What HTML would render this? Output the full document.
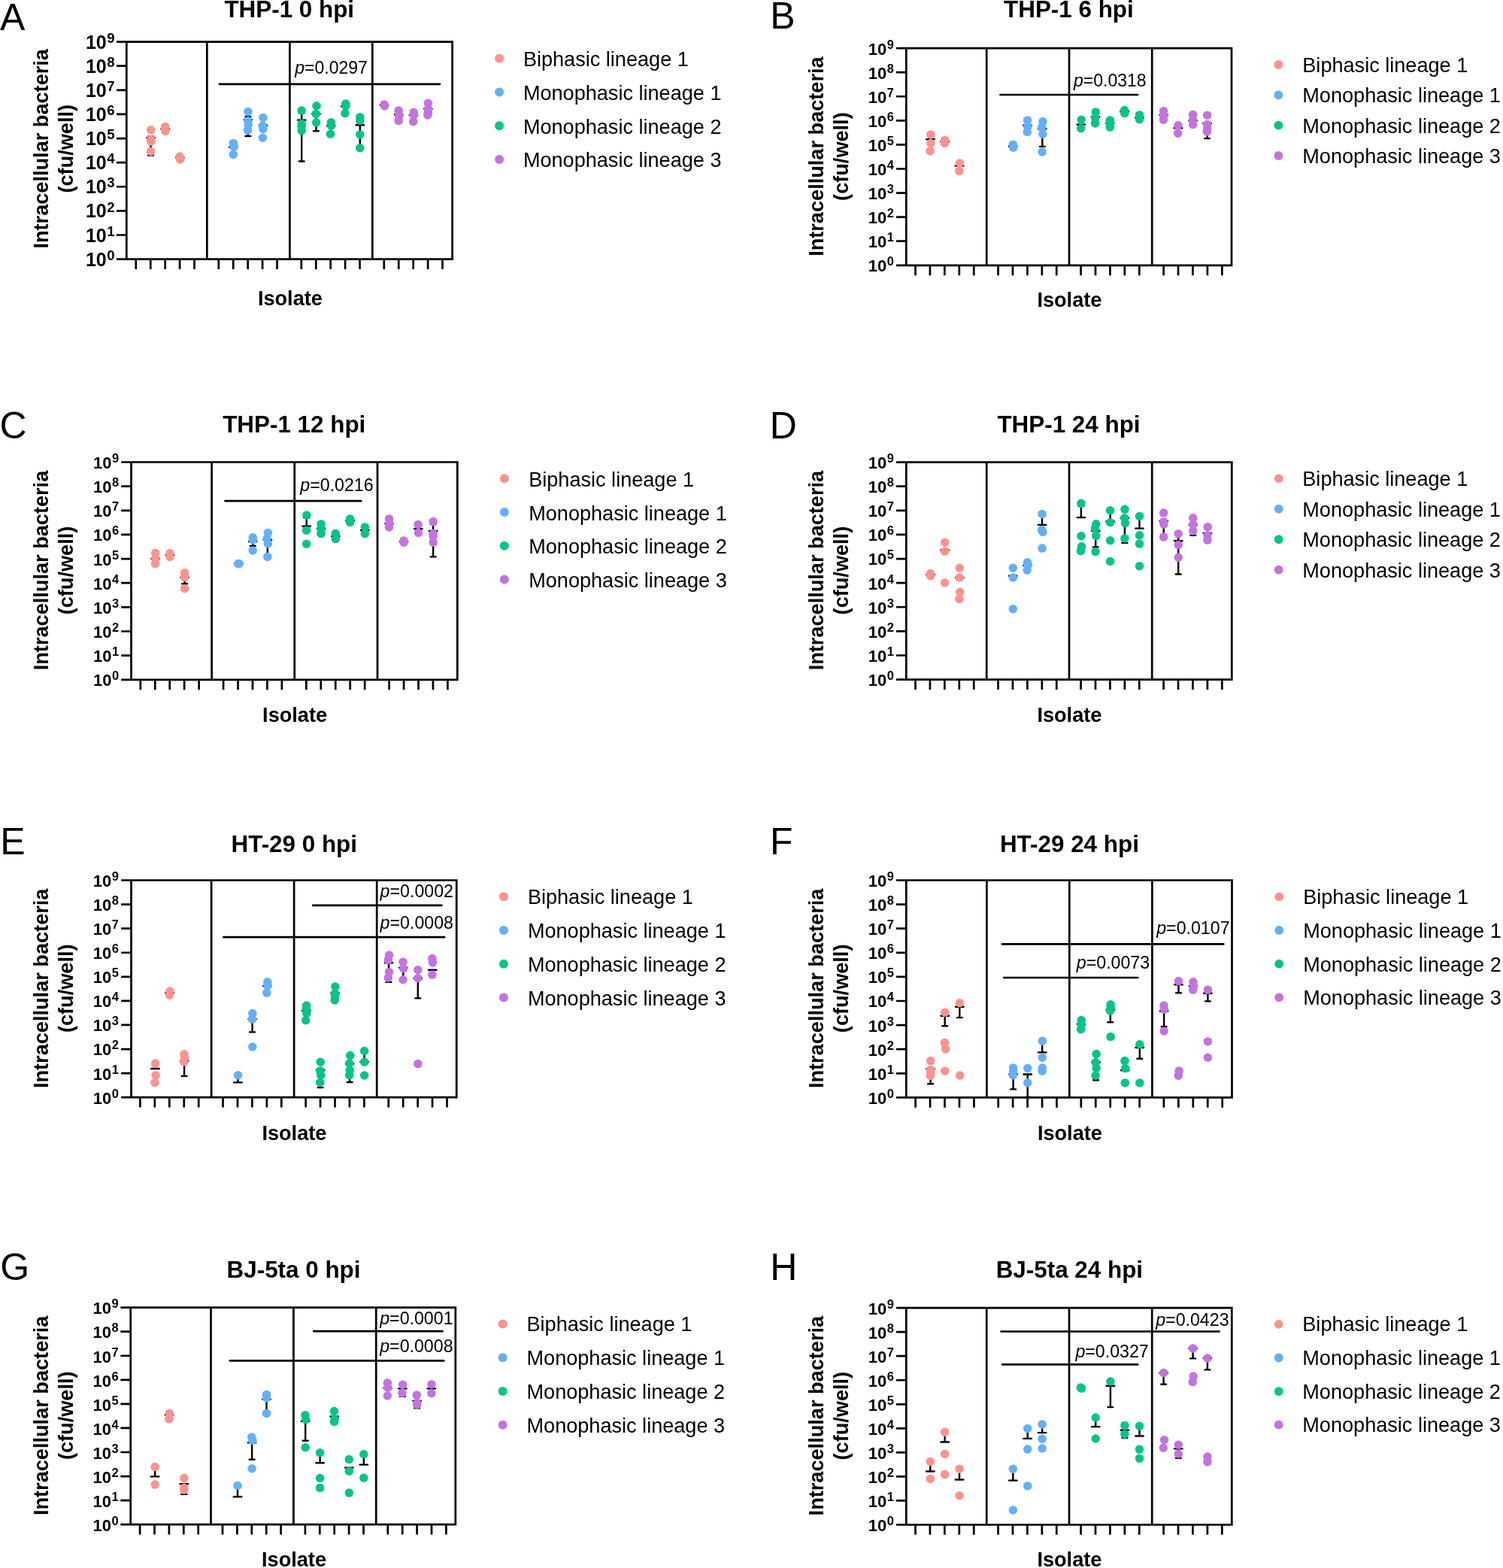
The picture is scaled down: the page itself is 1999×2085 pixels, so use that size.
<!DOCTYPE html>
<html><head><meta charset="utf-8"><style>
html,body{margin:0;padding:0;background:#fff;}
svg{display:block;}
text{font-family:"Liberation Sans",Arial,sans-serif;fill:#000;}
</style></head><body>
<svg xmlns="http://www.w3.org/2000/svg" width="1999" height="2085" viewBox="0 0 1999 2085">
<rect width="1999" height="2085" fill="#fff"/>
<text x="0" y="39.9" font-size="50" fill="#232323">A</text>
<text x="384.75" y="23.2" font-size="31.4" font-weight="bold" text-anchor="middle">THP-1 0 hpi</text>
<text transform="translate(64.4,197.8) rotate(-90)" font-size="27.15" font-weight="bold" text-anchor="middle">Intracellular bacteria</text>
<text transform="translate(96.8,197.8) rotate(-90)" font-size="27.15" font-weight="bold" text-anchor="middle">(cfu/well)</text>
<text x="385.9" y="405.8" font-size="27.15" font-weight="bold" text-anchor="middle">Isolate</text>
<path d="M168.3 55.6L601.6 55.6 M601.6 55.6L601.6 344.6 M156.3 344.6L601.6 344.6 M168.3 55.6L168.3 344.6 M156.3 344.6L168.3 344.6 M156.3 312.49L168.3 312.49 M156.3 280.38L168.3 280.38 M156.3 248.27L168.3 248.27 M156.3 216.16L168.3 216.16 M156.3 184.04L168.3 184.04 M156.3 151.93L168.3 151.93 M156.3 119.82L168.3 119.82 M156.3 87.71L168.3 87.71 M156.3 55.6L168.3 55.6 M275.3 55.6L275.3 344.6 M385.4 55.6L385.4 344.6 M495.3 55.6L495.3 344.6 M180.8 344.6L180.8 356.6 M200.23 344.6L200.23 356.6 M219.66 344.6L219.66 356.6 M239.09 344.6L239.09 356.6 M258.52 344.6L258.52 356.6 M290.8 344.6L290.8 356.6 M310.23 344.6L310.23 356.6 M329.66 344.6L329.66 356.6 M349.09 344.6L349.09 356.6 M368.52 344.6L368.52 356.6 M400.8 344.6L400.8 356.6 M420.23 344.6L420.23 356.6 M439.66 344.6L439.66 356.6 M459.09 344.6L459.09 356.6 M478.52 344.6L478.52 356.6 M510.8 344.6L510.8 356.6 M530.23 344.6L530.23 356.6 M549.66 344.6L549.66 356.6 M569.09 344.6L569.09 356.6 M588.52 344.6L588.52 356.6" stroke="#000" stroke-width="2.7" fill="none" stroke-linecap="square"/>
<text x="141.7" y="353.7" font-size="25" font-weight="bold" text-anchor="end">10</text><text x="142.2" y="345.8" font-size="18.6" font-weight="bold">0</text>
<text x="141.7" y="321.59" font-size="25" font-weight="bold" text-anchor="end">10</text><text x="142.2" y="313.69" font-size="18.6" font-weight="bold">1</text>
<text x="141.7" y="289.48" font-size="25" font-weight="bold" text-anchor="end">10</text><text x="142.2" y="281.58" font-size="18.6" font-weight="bold">2</text>
<text x="141.7" y="257.37" font-size="25" font-weight="bold" text-anchor="end">10</text><text x="142.2" y="249.47" font-size="18.6" font-weight="bold">3</text>
<text x="141.7" y="225.26" font-size="25" font-weight="bold" text-anchor="end">10</text><text x="142.2" y="217.36" font-size="18.6" font-weight="bold">4</text>
<text x="141.7" y="193.14" font-size="25" font-weight="bold" text-anchor="end">10</text><text x="142.2" y="185.24" font-size="18.6" font-weight="bold">5</text>
<text x="141.7" y="161.03" font-size="25" font-weight="bold" text-anchor="end">10</text><text x="142.2" y="153.13" font-size="18.6" font-weight="bold">6</text>
<text x="141.7" y="128.92" font-size="25" font-weight="bold" text-anchor="end">10</text><text x="142.2" y="121.02" font-size="18.6" font-weight="bold">7</text>
<text x="141.7" y="96.81" font-size="25" font-weight="bold" text-anchor="end">10</text><text x="142.2" y="88.91" font-size="18.6" font-weight="bold">8</text>
<text x="141.7" y="64.7" font-size="25" font-weight="bold" text-anchor="end">10</text><text x="142.2" y="56.8" font-size="18.6" font-weight="bold">9</text>
<path d="M291.9 111.9L584.9 111.9" stroke="#000" stroke-width="2.7" stroke-linecap="round"/>
<text x="392.3" y="97.5" font-size="23"><tspan font-style="italic">p</tspan>=0.0297</text>
<path d="M195.25 183.3L205.75 183.3 M200.5 183.3L200.5 206.6M197.1 206.6L203.9 206.6 M200.5 183.3L200.5 181.5M197.1 181.5L203.9 181.5 M214.35 171.4L224.85 171.4 M234.05 209.5L244.55 209.5 M305.05 195.6L315.55 195.6 M324.65 159.3L335.15 159.3 M329.9 159.3L329.9 181M326.5 181L333.3 181 M329.9 159.3L329.9 155.2M326.5 155.2L333.3 155.2 M344.65 166.8L355.15 166.8 M395.95 159.6L406.45 159.6 M401.2 159.6L401.2 214.5M397.8 214.5L404.6 214.5 M401.2 159.6L401.2 150M397.8 150L404.6 150 M415.25 151.4L425.75 151.4 M420.5 151.4L420.5 174.3M417.1 174.3L423.9 174.3 M434.95 167.3L445.45 167.3 M454.05 141.4L464.55 141.4 M473.55 166.2L484.05 166.2 M478.8 166.2L478.8 194M475.4 194L482.2 194 M505.65 139.6L516.15 139.6 M524.95 152.3L535.45 152.3 M544.75 152.9L555.25 152.9 M564.15 144.8L574.65 144.8" stroke="#000" stroke-width="2.4" fill="none" stroke-linecap="round"/>
<g fill="#FF928F"><circle cx="200.6" cy="172.8" r="5.75"/><circle cx="200.6" cy="185.2" r="5.75"/><circle cx="200.9" cy="188.1" r="5.75"/><circle cx="200.6" cy="201.5" r="5.75"/><circle cx="219.6" cy="168.5" r="5.75"/><circle cx="219.6" cy="171" r="5.75"/><circle cx="219.8" cy="174.5" r="5.75"/><circle cx="239" cy="208" r="5.75"/><circle cx="239.3" cy="211" r="5.75"/><circle cx="239.6" cy="212" r="5.75"/></g>
<g fill="#64AFFB"><circle cx="310.3" cy="190.4" r="5.75"/><circle cx="311.2" cy="195.1" r="5.75"/><circle cx="310.3" cy="205.5" r="5.75"/><circle cx="329.9" cy="148.6" r="5.75"/><circle cx="329.9" cy="160.4" r="5.75"/><circle cx="330.2" cy="165.6" r="5.75"/><circle cx="329.5" cy="173.1" r="5.75"/><circle cx="349.9" cy="156.4" r="5.75"/><circle cx="349.4" cy="167.3" r="5.75"/><circle cx="349.9" cy="171.4" r="5.75"/><circle cx="349.4" cy="183.3" r="5.75"/></g>
<g fill="#03C48B"><circle cx="401.2" cy="147.1" r="5.75"/><circle cx="401.2" cy="164.5" r="5.75"/><circle cx="401.2" cy="167.9" r="5.75"/><circle cx="401.2" cy="173.7" r="5.75"/><circle cx="421" cy="140.8" r="5.75"/><circle cx="420.2" cy="151.4" r="5.75"/><circle cx="420.6" cy="163" r="5.75"/><circle cx="440.4" cy="162.7" r="5.75"/><circle cx="440.4" cy="167.3" r="5.75"/><circle cx="439.5" cy="178.3" r="5.75"/><circle cx="459.8" cy="137.9" r="5.75"/><circle cx="459.8" cy="140.8" r="5.75"/><circle cx="458.9" cy="150.6" r="5.75"/><circle cx="478.8" cy="155.8" r="5.75"/><circle cx="478.8" cy="160.4" r="5.75"/><circle cx="478.8" cy="178.9" r="5.75"/><circle cx="478.8" cy="196.8" r="5.75"/></g>
<g fill="#C373E0"><circle cx="511" cy="139" r="5.75"/><circle cx="511.5" cy="141" r="5.75"/><circle cx="530.2" cy="147.1" r="5.75"/><circle cx="530.8" cy="153.5" r="5.75"/><circle cx="530.2" cy="160.4" r="5.75"/><circle cx="550.2" cy="149.4" r="5.75"/><circle cx="550.4" cy="152.9" r="5.75"/><circle cx="549.6" cy="161.6" r="5.75"/><circle cx="569.4" cy="137.3" r="5.75"/><circle cx="569.4" cy="144.8" r="5.75"/><circle cx="569.4" cy="149.4" r="5.75"/><circle cx="568.8" cy="152.9" r="5.75"/></g>
<circle cx="664.1" cy="77.7" r="6" fill="#FF928F"/>
<text x="695.9" y="88" font-size="27.1">Biphasic lineage 1</text>
<circle cx="664.1" cy="122.5" r="6" fill="#64AFFB"/>
<text x="695.9" y="132.8" font-size="27.1">Monophasic lineage 1</text>
<circle cx="664.1" cy="167.3" r="6" fill="#03C48B"/>
<text x="695.9" y="177.6" font-size="27.1">Monophasic lineage 2</text>
<circle cx="664.1" cy="212.1" r="6" fill="#C373E0"/>
<text x="695.9" y="222.4" font-size="27.1">Monophasic lineage 3</text>
<text x="1024.2" y="37.7" font-size="50" fill="#232323">B</text>
<text x="1421.4" y="22.9" font-size="31.4" font-weight="bold" text-anchor="middle">THP-1 6 hpi</text>
<text transform="translate(1095.3,208.1) rotate(-90)" font-size="27.15" font-weight="bold" text-anchor="middle">Intracellular bacteria</text>
<text transform="translate(1127.9,208.1) rotate(-90)" font-size="27.15" font-weight="bold" text-anchor="middle">(cfu/well)</text>
<text x="1422.4" y="407.8" font-size="27.15" font-weight="bold" text-anchor="middle">Isolate</text>
<path d="M1205.3 64.1L1638 64.1 M1638 64.1L1638 352.8 M1193.3 352.8L1638 352.8 M1205.3 64.1L1205.3 352.8 M1193.3 352.8L1205.3 352.8 M1193.3 320.72L1205.3 320.72 M1193.3 288.64L1205.3 288.64 M1193.3 256.57L1205.3 256.57 M1193.3 224.49L1205.3 224.49 M1193.3 192.41L1205.3 192.41 M1193.3 160.33L1205.3 160.33 M1193.3 128.26L1205.3 128.26 M1193.3 96.18L1205.3 96.18 M1193.3 64.1L1205.3 64.1 M1312.2 64.1L1312.2 352.8 M1422 64.1L1422 352.8 M1532.2 64.1L1532.2 352.8 M1217.5 352.8L1217.5 364.8 M1236.93 352.8L1236.93 364.8 M1256.36 352.8L1256.36 364.8 M1275.79 352.8L1275.79 364.8 M1295.22 352.8L1295.22 364.8 M1327.53 352.8L1327.53 364.8 M1346.96 352.8L1346.96 364.8 M1366.39 352.8L1366.39 364.8 M1385.82 352.8L1385.82 364.8 M1405.25 352.8L1405.25 364.8 M1437.56 352.8L1437.56 364.8 M1456.99 352.8L1456.99 364.8 M1476.42 352.8L1476.42 364.8 M1495.85 352.8L1495.85 364.8 M1515.28 352.8L1515.28 364.8 M1547.59 352.8L1547.59 364.8 M1567.02 352.8L1567.02 364.8 M1586.45 352.8L1586.45 364.8 M1605.88 352.8L1605.88 364.8 M1625.31 352.8L1625.31 364.8" stroke="#000" stroke-width="2.7" fill="none" stroke-linecap="square"/>
<text x="1179.2" y="361.4" font-size="22" font-weight="bold" text-anchor="end">10</text><text x="1179.7" y="353.4" font-size="16.4" font-weight="bold">0</text>
<text x="1179.2" y="329.32" font-size="22" font-weight="bold" text-anchor="end">10</text><text x="1179.7" y="321.32" font-size="16.4" font-weight="bold">1</text>
<text x="1179.2" y="297.24" font-size="22" font-weight="bold" text-anchor="end">10</text><text x="1179.7" y="289.24" font-size="16.4" font-weight="bold">2</text>
<text x="1179.2" y="265.17" font-size="22" font-weight="bold" text-anchor="end">10</text><text x="1179.7" y="257.17" font-size="16.4" font-weight="bold">3</text>
<text x="1179.2" y="233.09" font-size="22" font-weight="bold" text-anchor="end">10</text><text x="1179.7" y="225.09" font-size="16.4" font-weight="bold">4</text>
<text x="1179.2" y="201.01" font-size="22" font-weight="bold" text-anchor="end">10</text><text x="1179.7" y="193.01" font-size="16.4" font-weight="bold">5</text>
<text x="1179.2" y="168.93" font-size="22" font-weight="bold" text-anchor="end">10</text><text x="1179.7" y="160.93" font-size="16.4" font-weight="bold">6</text>
<text x="1179.2" y="136.86" font-size="22" font-weight="bold" text-anchor="end">10</text><text x="1179.7" y="128.86" font-size="16.4" font-weight="bold">7</text>
<text x="1179.2" y="104.78" font-size="22" font-weight="bold" text-anchor="end">10</text><text x="1179.7" y="96.78" font-size="16.4" font-weight="bold">8</text>
<text x="1179.2" y="72.7" font-size="22" font-weight="bold" text-anchor="end">10</text><text x="1179.7" y="64.7" font-size="16.4" font-weight="bold">9</text>
<path d="M1330.4 126L1513.1 126" stroke="#000" stroke-width="2.7" stroke-linecap="round"/>
<text x="1428" y="114.8" font-size="23"><tspan font-style="italic">p</tspan>=0.0318</text>
<path d="M1232.25 185.3L1242.75 185.3 M1251.35 188.2L1261.85 188.2 M1270.75 220.5L1281.25 220.5 M1342.05 194.5L1352.55 194.5 M1361.25 166.8L1371.75 166.8 M1381.05 171.4L1391.55 171.4 M1386.3 171.4L1386.3 194.9M1382.9 194.9L1389.7 194.9 M1432.65 165.6L1443.15 165.6 M1451.65 155.3L1462.15 155.3 M1471.05 163.9L1481.55 163.9 M1490.35 148.3L1500.85 148.3 M1510.25 156.4L1520.75 156.4 M1542.35 152.9L1552.85 152.9 M1561.65 170.3L1572.15 170.3 M1581.35 160.4L1591.85 160.4 M1600.35 163.9L1610.85 163.9 M1605.6 163.9L1605.6 184.1M1602.2 184.1L1609 184.1" stroke="#000" stroke-width="2.4" fill="none" stroke-linecap="round"/>
<g fill="#FF928F"><circle cx="1237.9" cy="178.9" r="5.75"/><circle cx="1237.9" cy="190.5" r="5.75"/><circle cx="1237" cy="200.9" r="5.75"/><circle cx="1256.6" cy="186.4" r="5.75"/><circle cx="1256.4" cy="190.5" r="5.75"/><circle cx="1276.3" cy="217" r="5.75"/><circle cx="1275.7" cy="227.4" r="5.75"/></g>
<g fill="#64AFFB"><circle cx="1347.3" cy="192.2" r="5.75"/><circle cx="1347.6" cy="196.2" r="5.75"/><circle cx="1366.5" cy="159.9" r="5.75"/><circle cx="1366.7" cy="168.5" r="5.75"/><circle cx="1366.2" cy="175.5" r="5.75"/><circle cx="1386.9" cy="161.6" r="5.75"/><circle cx="1385.7" cy="169.1" r="5.75"/><circle cx="1386.9" cy="178.3" r="5.75"/><circle cx="1386.1" cy="202" r="5.75"/></g>
<g fill="#03C48B"><circle cx="1438.2" cy="159.3" r="5.75"/><circle cx="1437.6" cy="170.8" r="5.75"/><circle cx="1457.2" cy="148.9" r="5.75"/><circle cx="1456.6" cy="157" r="5.75"/><circle cx="1456.6" cy="163.9" r="5.75"/><circle cx="1476.3" cy="159.9" r="5.75"/><circle cx="1476.5" cy="164" r="5.75"/><circle cx="1476.3" cy="169.1" r="5.75"/><circle cx="1495.6" cy="146.6" r="5.75"/><circle cx="1495.8" cy="150.6" r="5.75"/><circle cx="1515.5" cy="152.9" r="5.75"/><circle cx="1515.5" cy="158.7" r="5.75"/></g>
<g fill="#C373E0"><circle cx="1547.6" cy="147.7" r="5.75"/><circle cx="1547.6" cy="153.5" r="5.75"/><circle cx="1547.4" cy="159.3" r="5.75"/><circle cx="1566.9" cy="166.8" r="5.75"/><circle cx="1566.6" cy="177.2" r="5.75"/><circle cx="1586.6" cy="152.4" r="5.75"/><circle cx="1586.6" cy="159.3" r="5.75"/><circle cx="1586.6" cy="165.6" r="5.75"/><circle cx="1605.6" cy="153.3" r="5.75"/><circle cx="1605.6" cy="165.6" r="5.75"/><circle cx="1605.6" cy="170.8" r="5.75"/><circle cx="1605.4" cy="174.9" r="5.75"/></g>
<circle cx="1700.4" cy="86" r="5.9" fill="#FF928F"/>
<text x="1732.3" y="96" font-size="27.1">Biphasic lineage 1</text>
<circle cx="1700.4" cy="126.33" r="5.9" fill="#64AFFB"/>
<text x="1732.3" y="136.33" font-size="27.1">Monophasic lineage 1</text>
<circle cx="1700.4" cy="166.66" r="5.9" fill="#03C48B"/>
<text x="1732.3" y="176.66" font-size="27.1">Monophasic lineage 2</text>
<circle cx="1700.4" cy="206.99" r="5.9" fill="#C373E0"/>
<text x="1732.3" y="216.99" font-size="27.1">Monophasic lineage 3</text>
<text x="-0.5" y="583.1" font-size="50" fill="#232323">C</text>
<text x="391.25" y="574.8" font-size="31.4" font-weight="bold" text-anchor="middle">THP-1 12 hpi</text>
<text transform="translate(64.4,758.5) rotate(-90)" font-size="27.15" font-weight="bold" text-anchor="middle">Intracellular bacteria</text>
<text transform="translate(96.8,758.5) rotate(-90)" font-size="27.15" font-weight="bold" text-anchor="middle">(cfu/well)</text>
<text x="392.1" y="960.4" font-size="27.15" font-weight="bold" text-anchor="middle">Isolate</text>
<path d="M174.5 614.5L608.3 614.5 M608.3 614.5L608.3 903.8 M162.5 903.8L608.3 903.8 M174.5 614.5L174.5 903.8 M162.5 903.8L174.5 903.8 M162.5 871.66L174.5 871.66 M162.5 839.51L174.5 839.51 M162.5 807.37L174.5 807.37 M162.5 775.22L174.5 775.22 M162.5 743.08L174.5 743.08 M162.5 710.93L174.5 710.93 M162.5 678.79L174.5 678.79 M162.5 646.64L174.5 646.64 M162.5 614.5L174.5 614.5 M281.6 614.5L281.6 903.8 M391.7 614.5L391.7 903.8 M502 614.5L502 903.8 M186.8 903.8L186.8 915.8 M206.25 903.8L206.25 915.8 M225.7 903.8L225.7 915.8 M245.15 903.8L245.15 915.8 M264.6 903.8L264.6 915.8 M297.07 903.8L297.07 915.8 M316.52 903.8L316.52 915.8 M335.97 903.8L335.97 915.8 M355.42 903.8L355.42 915.8 M374.87 903.8L374.87 915.8 M407.34 903.8L407.34 915.8 M426.79 903.8L426.79 915.8 M446.24 903.8L446.24 915.8 M465.69 903.8L465.69 915.8 M485.14 903.8L485.14 915.8 M517.61 903.8L517.61 915.8 M537.06 903.8L537.06 915.8 M556.51 903.8L556.51 915.8 M575.96 903.8L575.96 915.8 M595.41 903.8L595.41 915.8" stroke="#000" stroke-width="2.7" fill="none" stroke-linecap="square"/>
<text x="148.4" y="912.3" font-size="22" font-weight="bold" text-anchor="end">10</text><text x="148.9" y="904.3" font-size="16.5" font-weight="bold">0</text>
<text x="148.4" y="880.16" font-size="22" font-weight="bold" text-anchor="end">10</text><text x="148.9" y="872.16" font-size="16.5" font-weight="bold">1</text>
<text x="148.4" y="848.01" font-size="22" font-weight="bold" text-anchor="end">10</text><text x="148.9" y="840.01" font-size="16.5" font-weight="bold">2</text>
<text x="148.4" y="815.87" font-size="22" font-weight="bold" text-anchor="end">10</text><text x="148.9" y="807.87" font-size="16.5" font-weight="bold">3</text>
<text x="148.4" y="783.72" font-size="22" font-weight="bold" text-anchor="end">10</text><text x="148.9" y="775.72" font-size="16.5" font-weight="bold">4</text>
<text x="148.4" y="751.58" font-size="22" font-weight="bold" text-anchor="end">10</text><text x="148.9" y="743.58" font-size="16.5" font-weight="bold">5</text>
<text x="148.4" y="719.43" font-size="22" font-weight="bold" text-anchor="end">10</text><text x="148.9" y="711.43" font-size="16.5" font-weight="bold">6</text>
<text x="148.4" y="687.29" font-size="22" font-weight="bold" text-anchor="end">10</text><text x="148.9" y="679.29" font-size="16.5" font-weight="bold">7</text>
<text x="148.4" y="655.14" font-size="22" font-weight="bold" text-anchor="end">10</text><text x="148.9" y="647.14" font-size="16.5" font-weight="bold">8</text>
<text x="148.4" y="623" font-size="22" font-weight="bold" text-anchor="end">10</text><text x="148.9" y="615" font-size="16.5" font-weight="bold">9</text>
<path d="M299.4 666.1L480.2 666.1" stroke="#000" stroke-width="2.7" stroke-linecap="round"/>
<text x="399.3" y="652.7" font-size="23.2"><tspan font-style="italic">p</tspan>=0.0216</text>
<path d="M201.35 743L211.85 743 M220.65 738L231.15 738 M240.35 767.6L250.85 767.6 M245.6 767.6L245.6 776.3M242.2 776.3L249 776.3 M312.05 749.6L322.55 749.6 M330.95 720.1L341.45 720.1 M336.2 720.1L336.2 725.9M332.8 725.9L339.6 725.9 M350.55 717.7L361.05 717.7 M355.8 717.7L355.8 738.5M352.4 738.5L359.2 738.5 M402.45 699.8L412.95 699.8 M407.7 699.8L407.7 688.5M404.3 688.5L411.1 688.5 M421.75 702.7L432.25 702.7 M441.05 713.1L451.55 713.1 M460.35 692.2L470.85 692.2 M480.05 705L490.55 705 M512.25 696.3L522.75 696.3 M531.75 720L542.25 720 M551.05 703.2L561.55 703.2 M570.85 705.9L581.35 705.9 M576.1 705.9L576.1 740.4M572.7 740.4L579.5 740.4 M576.1 705.9L576.1 697M572.7 697L579.5 697" stroke="#000" stroke-width="2.4" fill="none" stroke-linecap="round"/>
<g fill="#FF928F"><circle cx="206.7" cy="735.4" r="5.75"/><circle cx="206.7" cy="742.7" r="5.75"/><circle cx="206.5" cy="749.6" r="5.75"/><circle cx="225.9" cy="735.7" r="5.75"/><circle cx="225.9" cy="740.4" r="5.75"/><circle cx="245.6" cy="761.8" r="5.75"/><circle cx="245.6" cy="767.6" r="5.75"/><circle cx="245.6" cy="782.7" r="5.75"/></g>
<g fill="#64AFFB"><circle cx="316.7" cy="749.6" r="5.75"/><circle cx="317.9" cy="749.6" r="5.75"/><circle cx="336.2" cy="714.8" r="5.75"/><circle cx="336.4" cy="717.7" r="5.75"/><circle cx="336.2" cy="731.9" r="5.75"/><circle cx="356.4" cy="708.5" r="5.75"/><circle cx="355.2" cy="716" r="5.75"/><circle cx="356.4" cy="723" r="5.75"/><circle cx="355.8" cy="740.4" r="5.75"/></g>
<g fill="#03C48B"><circle cx="407.8" cy="685" r="5.75"/><circle cx="407.6" cy="705.2" r="5.75"/><circle cx="407.6" cy="723.3" r="5.75"/><circle cx="427" cy="696.9" r="5.75"/><circle cx="427" cy="703.2" r="5.75"/><circle cx="427" cy="709.6" r="5.75"/><circle cx="446.3" cy="709.6" r="5.75"/><circle cx="446.3" cy="716.6" r="5.75"/><circle cx="465.6" cy="689.9" r="5.75"/><circle cx="465.6" cy="694.5" r="5.75"/><circle cx="485.3" cy="700.9" r="5.75"/><circle cx="485.3" cy="709.6" r="5.75"/></g>
<g fill="#C373E0"><circle cx="517.5" cy="689.9" r="5.75"/><circle cx="517.7" cy="696" r="5.75"/><circle cx="517.4" cy="701" r="5.75"/><circle cx="537" cy="718.9" r="5.75"/><circle cx="537" cy="721.2" r="5.75"/><circle cx="556.1" cy="697.4" r="5.75"/><circle cx="556.5" cy="708.5" r="5.75"/><circle cx="576.1" cy="693.6" r="5.75"/><circle cx="576.1" cy="709.6" r="5.75"/><circle cx="576.1" cy="713.1" r="5.75"/><circle cx="576.1" cy="721.2" r="5.75"/></g>
<circle cx="670.8" cy="636.2" r="6" fill="#FF928F"/>
<text x="703.2" y="646.7" font-size="27.1">Biphasic lineage 1</text>
<circle cx="670.8" cy="681" r="6" fill="#64AFFB"/>
<text x="703.2" y="691.5" font-size="27.1">Monophasic lineage 1</text>
<circle cx="670.8" cy="725.8" r="6" fill="#03C48B"/>
<text x="703.2" y="736.3" font-size="27.1">Monophasic lineage 2</text>
<circle cx="670.8" cy="770.6" r="6" fill="#C373E0"/>
<text x="703.2" y="781.1" font-size="27.1">Monophasic lineage 3</text>
<text x="1023.8" y="582.9" font-size="50" fill="#232323">D</text>
<text x="1421.5" y="574.8" font-size="31.4" font-weight="bold" text-anchor="middle">THP-1 24 hpi</text>
<text transform="translate(1095.3,758.6) rotate(-90)" font-size="27.15" font-weight="bold" text-anchor="middle">Intracellular bacteria</text>
<text transform="translate(1127.9,758.6) rotate(-90)" font-size="27.15" font-weight="bold" text-anchor="middle">(cfu/well)</text>
<text x="1422.4" y="959.9" font-size="27.15" font-weight="bold" text-anchor="middle">Isolate</text>
<path d="M1205.3 614.6L1638.3 614.6 M1638.3 614.6L1638.3 903.6 M1193.3 903.6L1638.3 903.6 M1205.3 614.6L1205.3 903.6 M1193.3 903.6L1205.3 903.6 M1193.3 871.49L1205.3 871.49 M1193.3 839.38L1205.3 839.38 M1193.3 807.27L1205.3 807.27 M1193.3 775.16L1205.3 775.16 M1193.3 743.04L1205.3 743.04 M1193.3 710.93L1205.3 710.93 M1193.3 678.82L1205.3 678.82 M1193.3 646.71L1205.3 646.71 M1193.3 614.6L1205.3 614.6 M1312.2 614.6L1312.2 903.6 M1422 614.6L1422 903.6 M1532.2 614.6L1532.2 903.6 M1217.5 903.6L1217.5 915.6 M1236.93 903.6L1236.93 915.6 M1256.36 903.6L1256.36 915.6 M1275.79 903.6L1275.79 915.6 M1295.22 903.6L1295.22 915.6 M1327.53 903.6L1327.53 915.6 M1346.96 903.6L1346.96 915.6 M1366.39 903.6L1366.39 915.6 M1385.82 903.6L1385.82 915.6 M1405.25 903.6L1405.25 915.6 M1437.56 903.6L1437.56 915.6 M1456.99 903.6L1456.99 915.6 M1476.42 903.6L1476.42 915.6 M1495.85 903.6L1495.85 915.6 M1515.28 903.6L1515.28 915.6 M1547.59 903.6L1547.59 915.6 M1567.02 903.6L1567.02 915.6 M1586.45 903.6L1586.45 915.6 M1605.88 903.6L1605.88 915.6 M1625.31 903.6L1625.31 915.6" stroke="#000" stroke-width="2.7" fill="none" stroke-linecap="square"/>
<text x="1179.3" y="912" font-size="22" font-weight="bold" text-anchor="end">10</text><text x="1179.8" y="904" font-size="16.5" font-weight="bold">0</text>
<text x="1179.3" y="879.89" font-size="22" font-weight="bold" text-anchor="end">10</text><text x="1179.8" y="871.89" font-size="16.5" font-weight="bold">1</text>
<text x="1179.3" y="847.78" font-size="22" font-weight="bold" text-anchor="end">10</text><text x="1179.8" y="839.78" font-size="16.5" font-weight="bold">2</text>
<text x="1179.3" y="815.67" font-size="22" font-weight="bold" text-anchor="end">10</text><text x="1179.8" y="807.67" font-size="16.5" font-weight="bold">3</text>
<text x="1179.3" y="783.56" font-size="22" font-weight="bold" text-anchor="end">10</text><text x="1179.8" y="775.56" font-size="16.5" font-weight="bold">4</text>
<text x="1179.3" y="751.44" font-size="22" font-weight="bold" text-anchor="end">10</text><text x="1179.8" y="743.44" font-size="16.5" font-weight="bold">5</text>
<text x="1179.3" y="719.33" font-size="22" font-weight="bold" text-anchor="end">10</text><text x="1179.8" y="711.33" font-size="16.5" font-weight="bold">6</text>
<text x="1179.3" y="687.22" font-size="22" font-weight="bold" text-anchor="end">10</text><text x="1179.8" y="679.22" font-size="16.5" font-weight="bold">7</text>
<text x="1179.3" y="655.11" font-size="22" font-weight="bold" text-anchor="end">10</text><text x="1179.8" y="647.11" font-size="16.5" font-weight="bold">8</text>
<text x="1179.3" y="623" font-size="22" font-weight="bold" text-anchor="end">10</text><text x="1179.8" y="615" font-size="16.5" font-weight="bold">9</text>
<path d="M1232.25 764L1242.75 764 M1251.35 731.4L1261.85 731.4 M1271.05 768L1281.55 768 M1342.05 765.7L1352.55 765.7 M1361.35 751.8L1371.85 751.8 M1380.75 697.9L1391.25 697.9 M1386 697.9L1386 686M1382.6 686L1389.4 686 M1432.65 688.1L1443.15 688.1 M1437.9 688.1L1437.9 673M1434.5 673L1441.3 673 M1451.95 706L1462.45 706 M1457.2 706L1457.2 727.4M1453.8 727.4L1460.6 727.4 M1471.35 693.3L1481.85 693.3 M1476.6 693.3L1476.6 680M1473.2 680L1480 680 M1490.65 688.7L1501.15 688.7 M1495.9 688.7L1495.9 721.9M1492.5 721.9L1499.3 721.9 M1510.25 702.6L1520.75 702.6 M1515.5 702.6L1515.5 688M1512.1 688L1518.9 688 M1542.45 692.8L1552.95 692.8 M1547.7 692.8L1547.7 711M1544.3 711L1551.1 711 M1561.95 719.3L1572.45 719.3 M1567.2 719.3L1567.2 763.5M1563.8 763.5L1570.6 763.5 M1567.2 719.3L1567.2 712M1563.8 712L1570.6 712 M1581.55 697.6L1592.05 697.6 M1586.8 697.6L1586.8 711.8M1583.4 711.8L1590.2 711.8 M1600.65 708.9L1611.15 708.9" stroke="#000" stroke-width="2.4" fill="none" stroke-linecap="round"/>
<g fill="#FF928F"><circle cx="1237.3" cy="762.8" r="5.75"/><circle cx="1237.7" cy="765.7" r="5.75"/><circle cx="1256.6" cy="721.2" r="5.75"/><circle cx="1256.6" cy="733.1" r="5.75"/><circle cx="1256.6" cy="774.9" r="5.75"/><circle cx="1276.3" cy="755.3" r="5.75"/><circle cx="1276.3" cy="768" r="5.75"/><circle cx="1276.8" cy="787.2" r="5.75"/><circle cx="1275.7" cy="796.6" r="5.75"/></g>
<g fill="#64AFFB"><circle cx="1347.3" cy="755.3" r="5.75"/><circle cx="1347.3" cy="768" r="5.75"/><circle cx="1347.3" cy="809.8" r="5.75"/><circle cx="1366.4" cy="747.8" r="5.75"/><circle cx="1367.3" cy="751.3" r="5.75"/><circle cx="1366.1" cy="758.2" r="5.75"/><circle cx="1386.1" cy="683.4" r="5.75"/><circle cx="1385.7" cy="704.5" r="5.75"/><circle cx="1386.9" cy="707.4" r="5.75"/><circle cx="1386.1" cy="729.1" r="5.75"/></g>
<g fill="#03C48B"><circle cx="1437.9" cy="669.4" r="5.75"/><circle cx="1437.9" cy="712.7" r="5.75"/><circle cx="1438.5" cy="726.8" r="5.75"/><circle cx="1437.4" cy="732.6" r="5.75"/><circle cx="1457.8" cy="696.8" r="5.75"/><circle cx="1456.6" cy="702.6" r="5.75"/><circle cx="1457.8" cy="712.4" r="5.75"/><circle cx="1457" cy="733.8" r="5.75"/><circle cx="1476.6" cy="678.7" r="5.75"/><circle cx="1476.6" cy="694.8" r="5.75"/><circle cx="1476.6" cy="718.7" r="5.75"/><circle cx="1476.6" cy="746.5" r="5.75"/><circle cx="1495.9" cy="677.2" r="5.75"/><circle cx="1495.6" cy="688.7" r="5.75"/><circle cx="1496.5" cy="695.6" r="5.75"/><circle cx="1495.9" cy="715.9" r="5.75"/><circle cx="1515.5" cy="686.4" r="5.75"/><circle cx="1515.5" cy="711.8" r="5.75"/><circle cx="1515.5" cy="723.1" r="5.75"/><circle cx="1515.5" cy="752.8" r="5.75"/></g>
<g fill="#C373E0"><circle cx="1547.6" cy="682.1" r="5.75"/><circle cx="1547.6" cy="693.9" r="5.75"/><circle cx="1547.9" cy="697.1" r="5.75"/><circle cx="1547.6" cy="714.1" r="5.75"/><circle cx="1567.2" cy="709.8" r="5.75"/><circle cx="1567.2" cy="724.5" r="5.75"/><circle cx="1567.2" cy="741.3" r="5.75"/><circle cx="1586.8" cy="688.7" r="5.75"/><circle cx="1586.8" cy="697.4" r="5.75"/><circle cx="1586.8" cy="706" r="5.75"/><circle cx="1606.2" cy="700.8" r="5.75"/><circle cx="1605.9" cy="711.8" r="5.75"/><circle cx="1605.9" cy="718.2" r="5.75"/></g>
<circle cx="1700.7" cy="636.3" r="5.9" fill="#FF928F"/>
<text x="1732.3" y="646.2" font-size="27.1">Biphasic lineage 1</text>
<circle cx="1700.7" cy="676.77" r="5.9" fill="#64AFFB"/>
<text x="1732.3" y="686.67" font-size="27.1">Monophasic lineage 1</text>
<circle cx="1700.7" cy="717.24" r="5.9" fill="#03C48B"/>
<text x="1732.3" y="727.14" font-size="27.1">Monophasic lineage 2</text>
<circle cx="1700.7" cy="757.71" r="5.9" fill="#C373E0"/>
<text x="1732.3" y="767.61" font-size="27.1">Monophasic lineage 3</text>
<text x="0.2" y="1136" font-size="50" fill="#232323">E</text>
<text x="391.25" y="1133.1" font-size="31.4" font-weight="bold" text-anchor="middle">HT-29 0 hpi</text>
<text transform="translate(64.4,1314.3) rotate(-90)" font-size="27.15" font-weight="bold" text-anchor="middle">Intracellular bacteria</text>
<text transform="translate(96.8,1314.3) rotate(-90)" font-size="27.15" font-weight="bold" text-anchor="middle">(cfu/well)</text>
<text x="391.4" y="1515.8" font-size="27.15" font-weight="bold" text-anchor="middle">Isolate</text>
<path d="M174.5 1170.5L607.2 1170.5 M607.2 1170.5L607.2 1459.2 M162.5 1459.2L607.2 1459.2 M174.5 1170.5L174.5 1459.2 M162.5 1459.2L174.5 1459.2 M162.5 1427.12L174.5 1427.12 M162.5 1395.04L174.5 1395.04 M162.5 1362.97L174.5 1362.97 M162.5 1330.89L174.5 1330.89 M162.5 1298.81L174.5 1298.81 M162.5 1266.73L174.5 1266.73 M162.5 1234.66L174.5 1234.66 M162.5 1202.58L174.5 1202.58 M162.5 1170.5L174.5 1170.5 M281.1 1170.5L281.1 1459.2 M391.1 1170.5L391.1 1459.2 M501.2 1170.5L501.2 1459.2 M186.4 1459.2L186.4 1471.2 M205.85 1459.2L205.85 1471.2 M225.3 1459.2L225.3 1471.2 M244.75 1459.2L244.75 1471.2 M264.2 1459.2L264.2 1471.2 M296.5 1459.2L296.5 1471.2 M315.95 1459.2L315.95 1471.2 M335.4 1459.2L335.4 1471.2 M354.85 1459.2L354.85 1471.2 M374.3 1459.2L374.3 1471.2 M406.6 1459.2L406.6 1471.2 M426.05 1459.2L426.05 1471.2 M445.5 1459.2L445.5 1471.2 M464.95 1459.2L464.95 1471.2 M484.4 1459.2L484.4 1471.2 M516.7 1459.2L516.7 1471.2 M536.15 1459.2L536.15 1471.2 M555.6 1459.2L555.6 1471.2 M575.05 1459.2L575.05 1471.2 M594.5 1459.2L594.5 1471.2" stroke="#000" stroke-width="2.7" fill="none" stroke-linecap="square"/>
<text x="148.2" y="1467.6" font-size="22" font-weight="bold" text-anchor="end">10</text><text x="148.7" y="1459.6" font-size="16.5" font-weight="bold">0</text>
<text x="148.2" y="1435.52" font-size="22" font-weight="bold" text-anchor="end">10</text><text x="148.7" y="1427.52" font-size="16.5" font-weight="bold">1</text>
<text x="148.2" y="1403.44" font-size="22" font-weight="bold" text-anchor="end">10</text><text x="148.7" y="1395.44" font-size="16.5" font-weight="bold">2</text>
<text x="148.2" y="1371.37" font-size="22" font-weight="bold" text-anchor="end">10</text><text x="148.7" y="1363.37" font-size="16.5" font-weight="bold">3</text>
<text x="148.2" y="1339.29" font-size="22" font-weight="bold" text-anchor="end">10</text><text x="148.7" y="1331.29" font-size="16.5" font-weight="bold">4</text>
<text x="148.2" y="1307.21" font-size="22" font-weight="bold" text-anchor="end">10</text><text x="148.7" y="1299.21" font-size="16.5" font-weight="bold">5</text>
<text x="148.2" y="1275.13" font-size="22" font-weight="bold" text-anchor="end">10</text><text x="148.7" y="1267.13" font-size="16.5" font-weight="bold">6</text>
<text x="148.2" y="1243.06" font-size="22" font-weight="bold" text-anchor="end">10</text><text x="148.7" y="1235.06" font-size="16.5" font-weight="bold">7</text>
<text x="148.2" y="1210.98" font-size="22" font-weight="bold" text-anchor="end">10</text><text x="148.7" y="1202.98" font-size="16.5" font-weight="bold">8</text>
<text x="148.2" y="1178.9" font-size="22" font-weight="bold" text-anchor="end">10</text><text x="148.7" y="1170.9" font-size="16.5" font-weight="bold">9</text>
<path d="M416.15 1203.9L587.45 1203.9" stroke="#000" stroke-width="2.7" stroke-linecap="round"/>
<text x="505.6" y="1193.4" font-size="23.2"><tspan font-style="italic">p</tspan>=0.0002</text>
<path d="M297.45 1246.2L590.95 1246.2" stroke="#000" stroke-width="2.7" stroke-linecap="round"/>
<text x="505.6" y="1235.2" font-size="23.2"><tspan font-style="italic">p</tspan>=0.0008</text>
<path d="M201.25 1421L211.75 1421 M220.35 1320.3L230.85 1320.3 M239.85 1410.8L250.35 1410.8 M245.1 1410.8L245.1 1430.9M241.7 1430.9L248.5 1430.9 M311.25 1439.4L321.75 1439.4 M316.5 1439.4L316.5 1431M313.1 1431L319.9 1431 M330.35 1355.1L340.85 1355.1 M335.6 1355.1L335.6 1372.4M332.2 1372.4L339 1372.4 M350.05 1311L360.55 1311 M402.05 1344L412.55 1344 M420.85 1422.7L431.35 1422.7 M426.1 1422.7L426.1 1446.1M422.7 1446.1L429.5 1446.1 M440.25 1320.4L450.75 1320.4 M459.85 1414.6L470.35 1414.6 M465.1 1414.6L465.1 1439M461.7 1439L468.5 1439 M479.35 1411.9L489.85 1411.9 M484.6 1411.9L484.6 1400M481.2 1400L488 1400 M511.75 1280.4L522.25 1280.4 M517 1280.4L517 1305.9M513.6 1305.9L520.4 1305.9 M531.05 1286.8L541.55 1286.8 M536.3 1286.8L536.3 1300.5M532.9 1300.5L539.7 1300.5 M550.55 1300.7L561.05 1300.7 M555.8 1300.7L555.8 1327.4M552.4 1327.4L559.2 1327.4 M569.95 1289.7L580.45 1289.7 M575.2 1289.7L575.2 1294M571.8 1294L578.6 1294" stroke="#000" stroke-width="2.4" fill="none" stroke-linecap="round"/>
<g fill="#FF928F"><circle cx="206.5" cy="1414.1" r="5.75"/><circle cx="207.1" cy="1429.8" r="5.75"/><circle cx="205.9" cy="1439.6" r="5.75"/><circle cx="225.9" cy="1318" r="5.75"/><circle cx="225.4" cy="1323.2" r="5.75"/><circle cx="244.9" cy="1401.9" r="5.75"/><circle cx="245.6" cy="1407.1" r="5.75"/><circle cx="244.8" cy="1411.8" r="5.75"/></g>
<g fill="#64AFFB"><circle cx="316.5" cy="1429.8" r="5.75"/><circle cx="335.8" cy="1347.6" r="5.75"/><circle cx="335.5" cy="1355.1" r="5.75"/><circle cx="335.8" cy="1392" r="5.75"/><circle cx="355.8" cy="1305.8" r="5.75"/><circle cx="355.8" cy="1310.5" r="5.75"/><circle cx="354.8" cy="1320.3" r="5.75"/></g>
<g fill="#03C48B"><circle cx="407.6" cy="1337" r="5.75"/><circle cx="407.2" cy="1341.6" r="5.75"/><circle cx="407.8" cy="1347.4" r="5.75"/><circle cx="406.7" cy="1356.7" r="5.75"/><circle cx="426.2" cy="1412.3" r="5.75"/><circle cx="425.8" cy="1423.9" r="5.75"/><circle cx="426.7" cy="1429.7" r="5.75"/><circle cx="425.8" cy="1439.5" r="5.75"/><circle cx="445.8" cy="1312" r="5.75"/><circle cx="445.5" cy="1321.3" r="5.75"/><circle cx="445.5" cy="1324.8" r="5.75"/><circle cx="445.2" cy="1330" r="5.75"/><circle cx="465.8" cy="1403.6" r="5.75"/><circle cx="464.7" cy="1414" r="5.75"/><circle cx="465.3" cy="1423.3" r="5.75"/><circle cx="464.7" cy="1429.7" r="5.75"/><circle cx="484.6" cy="1397.5" r="5.75"/><circle cx="484.6" cy="1412.3" r="5.75"/><circle cx="484.6" cy="1430" r="5.75"/></g>
<g fill="#C373E0"><circle cx="517.5" cy="1270" r="5.75"/><circle cx="516.3" cy="1276.4" r="5.75"/><circle cx="517.5" cy="1292.6" r="5.75"/><circle cx="516.3" cy="1300.2" r="5.75"/><circle cx="536" cy="1279.3" r="5.75"/><circle cx="536.6" cy="1288" r="5.75"/><circle cx="536" cy="1302.8" r="5.75"/><circle cx="555.8" cy="1289.7" r="5.75"/><circle cx="555.8" cy="1300.7" r="5.75"/><circle cx="555.8" cy="1414.6" r="5.75"/><circle cx="574.9" cy="1274.6" r="5.75"/><circle cx="575.5" cy="1279.9" r="5.75"/><circle cx="574.9" cy="1296.1" r="5.75"/></g>
<circle cx="669.9" cy="1192.2" r="6" fill="#FF928F"/>
<text x="701.9" y="1202.2" font-size="27.1">Biphasic lineage 1</text>
<circle cx="669.9" cy="1236.97" r="6" fill="#64AFFB"/>
<text x="701.9" y="1246.97" font-size="27.1">Monophasic lineage 1</text>
<circle cx="669.9" cy="1281.74" r="6" fill="#03C48B"/>
<text x="701.9" y="1291.74" font-size="27.1">Monophasic lineage 2</text>
<circle cx="669.9" cy="1326.51" r="6" fill="#C373E0"/>
<text x="701.9" y="1336.51" font-size="27.1">Monophasic lineage 3</text>
<text x="1024" y="1136" font-size="50" fill="#232323">F</text>
<text x="1422.4" y="1133.1" font-size="31.4" font-weight="bold" text-anchor="middle">HT-29 24 hpi</text>
<text transform="translate(1095.3,1314.35) rotate(-90)" font-size="27.15" font-weight="bold" text-anchor="middle">Intracellular bacteria</text>
<text transform="translate(1127.9,1314.35) rotate(-90)" font-size="27.15" font-weight="bold" text-anchor="middle">(cfu/well)</text>
<text x="1422.9" y="1516" font-size="27.15" font-weight="bold" text-anchor="middle">Isolate</text>
<path d="M1205.3 1170.5L1638.5 1170.5 M1638.5 1170.5L1638.5 1459.4 M1193.3 1459.4L1638.5 1459.4 M1205.3 1170.5L1205.3 1459.4 M1193.3 1459.4L1205.3 1459.4 M1193.3 1427.3L1205.3 1427.3 M1193.3 1395.2L1205.3 1395.2 M1193.3 1363.1L1205.3 1363.1 M1193.3 1331L1205.3 1331 M1193.3 1298.9L1205.3 1298.9 M1193.3 1266.8L1205.3 1266.8 M1193.3 1234.7L1205.3 1234.7 M1193.3 1202.6L1205.3 1202.6 M1193.3 1170.5L1205.3 1170.5 M1312.4 1170.5L1312.4 1459.4 M1422.3 1170.5L1422.3 1459.4 M1532.4 1170.5L1532.4 1459.4 M1217.6 1459.4L1217.6 1471.4 M1237.05 1459.4L1237.05 1471.4 M1256.5 1459.4L1256.5 1471.4 M1275.95 1459.4L1275.95 1471.4 M1295.4 1459.4L1295.4 1471.4 M1327.7 1459.4L1327.7 1471.4 M1347.15 1459.4L1347.15 1471.4 M1366.6 1459.4L1366.6 1471.4 M1386.05 1459.4L1386.05 1471.4 M1405.5 1459.4L1405.5 1471.4 M1437.8 1459.4L1437.8 1471.4 M1457.25 1459.4L1457.25 1471.4 M1476.7 1459.4L1476.7 1471.4 M1496.15 1459.4L1496.15 1471.4 M1515.6 1459.4L1515.6 1471.4 M1547.9 1459.4L1547.9 1471.4 M1567.35 1459.4L1567.35 1471.4 M1586.8 1459.4L1586.8 1471.4 M1606.25 1459.4L1606.25 1471.4 M1625.7 1459.4L1625.7 1471.4" stroke="#000" stroke-width="2.7" fill="none" stroke-linecap="square"/>
<text x="1179.3" y="1467.8" font-size="22" font-weight="bold" text-anchor="end">10</text><text x="1179.8" y="1459.8" font-size="16.5" font-weight="bold">0</text>
<text x="1179.3" y="1435.7" font-size="22" font-weight="bold" text-anchor="end">10</text><text x="1179.8" y="1427.7" font-size="16.5" font-weight="bold">1</text>
<text x="1179.3" y="1403.6" font-size="22" font-weight="bold" text-anchor="end">10</text><text x="1179.8" y="1395.6" font-size="16.5" font-weight="bold">2</text>
<text x="1179.3" y="1371.5" font-size="22" font-weight="bold" text-anchor="end">10</text><text x="1179.8" y="1363.5" font-size="16.5" font-weight="bold">3</text>
<text x="1179.3" y="1339.4" font-size="22" font-weight="bold" text-anchor="end">10</text><text x="1179.8" y="1331.4" font-size="16.5" font-weight="bold">4</text>
<text x="1179.3" y="1307.3" font-size="22" font-weight="bold" text-anchor="end">10</text><text x="1179.8" y="1299.3" font-size="16.5" font-weight="bold">5</text>
<text x="1179.3" y="1275.2" font-size="22" font-weight="bold" text-anchor="end">10</text><text x="1179.8" y="1267.2" font-size="16.5" font-weight="bold">6</text>
<text x="1179.3" y="1243.1" font-size="22" font-weight="bold" text-anchor="end">10</text><text x="1179.8" y="1235.1" font-size="16.5" font-weight="bold">7</text>
<text x="1179.3" y="1211" font-size="22" font-weight="bold" text-anchor="end">10</text><text x="1179.8" y="1203" font-size="16.5" font-weight="bold">8</text>
<text x="1179.3" y="1178.9" font-size="22" font-weight="bold" text-anchor="end">10</text><text x="1179.8" y="1170.9" font-size="16.5" font-weight="bold">9</text>
<path d="M1332.95 1255.4L1627.25 1255.4" stroke="#000" stroke-width="2.7" stroke-linecap="round"/>
<text x="1538.2" y="1242.1" font-size="23.2"><tspan font-style="italic">p</tspan>=0.0107</text>
<path d="M1335.35 1300L1513.35 1300" stroke="#000" stroke-width="2.7" stroke-linecap="round"/>
<text x="1431.8" y="1288.1" font-size="23.2"><tspan font-style="italic">p</tspan>=0.0073</text>
<path d="M1232.35 1421.3L1242.85 1421.3 M1237.6 1421.3L1237.6 1441.2M1234.2 1441.2L1241 1441.2 M1251.45 1350.8L1261.95 1350.8 M1256.7 1350.8L1256.7 1364.3M1253.3 1364.3L1260.1 1364.3 M1271.05 1338.7L1281.55 1338.7 M1276.3 1338.7L1276.3 1353.1M1272.9 1353.1L1279.7 1353.1 M1342.35 1428.3L1352.85 1428.3 M1347.6 1428.3L1347.6 1448.4M1344.2 1448.4L1351 1448.4 M1361.45 1428.5L1371.95 1428.5 M1366.7 1428.5L1366.7 1459M1363.3 1459L1370.1 1459 M1380.95 1399.4L1391.45 1399.4 M1386.2 1399.4L1386.2 1386M1382.8 1386L1389.6 1386 M1432.65 1361.8L1443.15 1361.8 M1452.35 1412.5L1462.85 1412.5 M1457.6 1412.5L1457.6 1436.2M1454.2 1436.2L1461 1436.2 M1471.55 1342.8L1482.05 1342.8 M1476.8 1342.8L1476.8 1359.2M1473.4 1359.2L1480.2 1359.2 M1491.05 1423.3L1501.55 1423.3 M1510.55 1393L1521.05 1393 M1515.8 1393L1515.8 1407.8M1512.4 1407.8L1519.2 1407.8 M1542.85 1344.5L1553.35 1344.5 M1548.1 1344.5L1548.1 1365.3M1544.7 1365.3L1551.5 1365.3 M1562.25 1309.3L1572.75 1309.3 M1567.5 1309.3L1567.5 1320.2M1564.1 1320.2L1570.9 1320.2 M1581.65 1311.3L1592.15 1311.3 M1601.15 1320.8L1611.65 1320.8 M1606.4 1320.8L1606.4 1331.4M1603 1331.4L1609.8 1331.4" stroke="#000" stroke-width="2.4" fill="none" stroke-linecap="round"/>
<g fill="#FF928F"><circle cx="1237.6" cy="1410.6" r="5.75"/><circle cx="1237.7" cy="1422.4" r="5.75"/><circle cx="1237.7" cy="1424.7" r="5.75"/><circle cx="1237.3" cy="1430.4" r="5.75"/><circle cx="1256.7" cy="1346.2" r="5.75"/><circle cx="1256.4" cy="1386.4" r="5.75"/><circle cx="1257.5" cy="1394.9" r="5.75"/><circle cx="1256.7" cy="1424.3" r="5.75"/><circle cx="1276.3" cy="1333.7" r="5.75"/><circle cx="1276.6" cy="1430.1" r="5.75"/></g>
<g fill="#64AFFB"><circle cx="1347.6" cy="1420" r="5.75"/><circle cx="1347.6" cy="1424.9" r="5.75"/><circle cx="1347.3" cy="1429.8" r="5.75"/><circle cx="1366.7" cy="1420.5" r="5.75"/><circle cx="1366.7" cy="1439.7" r="5.75"/><circle cx="1386.3" cy="1384.3" r="5.75"/><circle cx="1386.3" cy="1406.2" r="5.75"/><circle cx="1386.3" cy="1420" r="5.75"/><circle cx="1386" cy="1424.3" r="5.75"/></g>
<g fill="#03C48B"><circle cx="1438.2" cy="1356.6" r="5.75"/><circle cx="1438.2" cy="1362.4" r="5.75"/><circle cx="1437.6" cy="1368.7" r="5.75"/><circle cx="1458.1" cy="1401.5" r="5.75"/><circle cx="1457.2" cy="1412.5" r="5.75"/><circle cx="1458.1" cy="1420.3" r="5.75"/><circle cx="1457" cy="1430.2" r="5.75"/><circle cx="1477.1" cy="1335.8" r="5.75"/><circle cx="1477.1" cy="1339.9" r="5.75"/><circle cx="1476.5" cy="1343.9" r="5.75"/><circle cx="1477.1" cy="1378.6" r="5.75"/><circle cx="1495.9" cy="1410.6" r="5.75"/><circle cx="1496.8" cy="1420.6" r="5.75"/><circle cx="1496.3" cy="1439.9" r="5.75"/><circle cx="1515.8" cy="1388.7" r="5.75"/><circle cx="1515.8" cy="1439.9" r="5.75"/></g>
<g fill="#C373E0"><circle cx="1547.9" cy="1337" r="5.75"/><circle cx="1548.5" cy="1342.2" r="5.75"/><circle cx="1548.1" cy="1371" r="5.75"/><circle cx="1567.5" cy="1304.6" r="5.75"/><circle cx="1568.1" cy="1424.1" r="5.75"/><circle cx="1567.2" cy="1430.2" r="5.75"/><circle cx="1586.9" cy="1305.8" r="5.75"/><circle cx="1587.4" cy="1311.6" r="5.75"/><circle cx="1586.6" cy="1316.2" r="5.75"/><circle cx="1606.4" cy="1316.2" r="5.75"/><circle cx="1606.4" cy="1384.9" r="5.75"/><circle cx="1606.4" cy="1406.2" r="5.75"/></g>
<circle cx="1701.2" cy="1192.3" r="5.9" fill="#FF928F"/>
<text x="1733.2" y="1202.1" font-size="27.1">Biphasic lineage 1</text>
<circle cx="1701.2" cy="1237" r="5.9" fill="#64AFFB"/>
<text x="1733.2" y="1246.8" font-size="27.1">Monophasic lineage 1</text>
<circle cx="1701.2" cy="1281.7" r="5.9" fill="#03C48B"/>
<text x="1733.2" y="1291.5" font-size="27.1">Monophasic lineage 2</text>
<circle cx="1701.2" cy="1326.4" r="5.9" fill="#C373E0"/>
<text x="1733.2" y="1336.2" font-size="27.1">Monophasic lineage 3</text>
<text x="0.3" y="1702.2" font-size="50" fill="#232323">G</text>
<text x="390.55" y="1699" font-size="31.4" font-weight="bold" text-anchor="middle">BJ-5ta 0 hpi</text>
<text transform="translate(64.4,1882.3) rotate(-90)" font-size="27.15" font-weight="bold" text-anchor="middle">Intracellular bacteria</text>
<text transform="translate(96.8,1882.3) rotate(-90)" font-size="27.15" font-weight="bold" text-anchor="middle">(cfu/well)</text>
<text x="391" y="2083.2" font-size="27.15" font-weight="bold" text-anchor="middle">Isolate</text>
<path d="M173.7 1738.6L605.8 1738.6 M605.8 1738.6L605.8 2027.2 M161.7 2027.2L605.8 2027.2 M173.7 1738.6L173.7 2027.2 M161.7 2027.2L173.7 2027.2 M161.7 1995.13L173.7 1995.13 M161.7 1963.07L173.7 1963.07 M161.7 1931L173.7 1931 M161.7 1898.93L173.7 1898.93 M161.7 1866.87L173.7 1866.87 M161.7 1834.8L173.7 1834.8 M161.7 1802.73L173.7 1802.73 M161.7 1770.67L173.7 1770.67 M161.7 1738.6L173.7 1738.6 M280.5 1738.6L280.5 2027.2 M390.4 1738.6L390.4 2027.2 M500.2 1738.6L500.2 2027.2 M186.1 2027.2L186.1 2039.2 M205.5 2027.2L205.5 2039.2 M224.9 2027.2L224.9 2039.2 M244.3 2027.2L244.3 2039.2 M263.7 2027.2L263.7 2039.2 M296 2027.2L296 2039.2 M315.4 2027.2L315.4 2039.2 M334.8 2027.2L334.8 2039.2 M354.2 2027.2L354.2 2039.2 M373.6 2027.2L373.6 2039.2 M405.9 2027.2L405.9 2039.2 M425.3 2027.2L425.3 2039.2 M444.7 2027.2L444.7 2039.2 M464.1 2027.2L464.1 2039.2 M483.5 2027.2L483.5 2039.2 M515.8 2027.2L515.8 2039.2 M535.2 2027.2L535.2 2039.2 M554.6 2027.2L554.6 2039.2 M574 2027.2L574 2039.2 M593.4 2027.2L593.4 2039.2" stroke="#000" stroke-width="2.7" fill="none" stroke-linecap="square"/>
<text x="148.1" y="2036" font-size="22" font-weight="bold" text-anchor="end">10</text><text x="148.6" y="2028" font-size="16.5" font-weight="bold">0</text>
<text x="148.1" y="2003.93" font-size="22" font-weight="bold" text-anchor="end">10</text><text x="148.6" y="1995.93" font-size="16.5" font-weight="bold">1</text>
<text x="148.1" y="1971.87" font-size="22" font-weight="bold" text-anchor="end">10</text><text x="148.6" y="1963.87" font-size="16.5" font-weight="bold">2</text>
<text x="148.1" y="1939.8" font-size="22" font-weight="bold" text-anchor="end">10</text><text x="148.6" y="1931.8" font-size="16.5" font-weight="bold">3</text>
<text x="148.1" y="1907.73" font-size="22" font-weight="bold" text-anchor="end">10</text><text x="148.6" y="1899.73" font-size="16.5" font-weight="bold">4</text>
<text x="148.1" y="1875.67" font-size="22" font-weight="bold" text-anchor="end">10</text><text x="148.6" y="1867.67" font-size="16.5" font-weight="bold">5</text>
<text x="148.1" y="1843.6" font-size="22" font-weight="bold" text-anchor="end">10</text><text x="148.6" y="1835.6" font-size="16.5" font-weight="bold">6</text>
<text x="148.1" y="1811.53" font-size="22" font-weight="bold" text-anchor="end">10</text><text x="148.6" y="1803.53" font-size="16.5" font-weight="bold">7</text>
<text x="148.1" y="1779.47" font-size="22" font-weight="bold" text-anchor="end">10</text><text x="148.6" y="1771.47" font-size="16.5" font-weight="bold">8</text>
<text x="148.1" y="1747.4" font-size="22" font-weight="bold" text-anchor="end">10</text><text x="148.6" y="1739.4" font-size="16.5" font-weight="bold">9</text>
<path d="M417.35 1770.2L588.45 1770.2" stroke="#000" stroke-width="2.7" stroke-linecap="round"/>
<text x="505.2" y="1760.6" font-size="23.2"><tspan font-style="italic">p</tspan>=0.0001</text>
<path d="M305.85 1809.3L590.15 1809.3" stroke="#000" stroke-width="2.7" stroke-linecap="round"/>
<text x="505.2" y="1798.3" font-size="23.2"><tspan font-style="italic">p</tspan>=0.0008</text>
<path d="M200.85 1963.4L211.35 1963.4 M206.1 1963.4L206.1 1952.5M202.7 1952.5L209.5 1952.5 M219.85 1881.4L230.35 1881.4 M239.55 1973.3L250.05 1973.3 M244.8 1973.3L244.8 1986.9M241.4 1986.9L248.2 1986.9 M310.75 1990.3L321.25 1990.3 M316 1990.3L316 1977M312.6 1977L319.4 1977 M329.85 1918.4L340.35 1918.4 M335.1 1918.4L335.1 1940.7M331.7 1940.7L338.5 1940.7 M349.25 1860.6L359.75 1860.6 M354.5 1860.6L354.5 1877M351.1 1877L357.9 1877 M400.95 1889.8L411.45 1889.8 M406.2 1889.8L406.2 1915.8M402.8 1915.8L409.6 1915.8 M420.35 1945.3L430.85 1945.3 M425.6 1945.3L425.6 1933.5M422.2 1933.5L429 1933.5 M439.45 1883.5L449.95 1883.5 M459.05 1951.6L469.55 1951.6 M478.55 1947.6L489.05 1947.6 M483.8 1947.6L483.8 1935.5M480.4 1935.5L487.2 1935.5 M510.35 1845.6L520.85 1845.6 M530.05 1846.4L540.55 1846.4 M535.3 1846.4L535.3 1856.8M531.9 1856.8L538.7 1856.8 M549.35 1862.6L559.85 1862.6 M554.6 1862.6L554.6 1872.4M551.2 1872.4L558 1872.4 M568.65 1846.4L579.15 1846.4" stroke="#000" stroke-width="2.4" fill="none" stroke-linecap="round"/>
<g fill="#FF928F"><circle cx="206.1" cy="1950.5" r="5.75"/><circle cx="206.1" cy="1974.1" r="5.75"/><circle cx="225.4" cy="1879.4" r="5.75"/><circle cx="224.8" cy="1887" r="5.75"/><circle cx="244.8" cy="1965.5" r="5.75"/><circle cx="244.8" cy="1978.2" r="5.75"/><circle cx="244.8" cy="1981.1" r="5.75"/></g>
<g fill="#64AFFB"><circle cx="316" cy="1975.5" r="5.75"/><circle cx="334.7" cy="1911" r="5.75"/><circle cx="335.8" cy="1915.4" r="5.75"/><circle cx="335.1" cy="1952.8" r="5.75"/><circle cx="354.5" cy="1854.4" r="5.75"/><circle cx="354.5" cy="1858.8" r="5.75"/><circle cx="354.5" cy="1879.4" r="5.75"/></g>
<g fill="#03C48B"><circle cx="405.9" cy="1881.7" r="5.75"/><circle cx="406.7" cy="1887.5" r="5.75"/><circle cx="406.2" cy="1924.8" r="5.75"/><circle cx="425.6" cy="1931.8" r="5.75"/><circle cx="425.6" cy="1965.5" r="5.75"/><circle cx="425.6" cy="1978.4" r="5.75"/><circle cx="444.5" cy="1876.5" r="5.75"/><circle cx="445.1" cy="1886.9" r="5.75"/><circle cx="444.5" cy="1890.4" r="5.75"/><circle cx="464.3" cy="1940.6" r="5.75"/><circle cx="464.3" cy="1956.2" r="5.75"/><circle cx="464.3" cy="1985.1" r="5.75"/><circle cx="483.8" cy="1933.7" r="5.75"/><circle cx="483.8" cy="1965.2" r="5.75"/></g>
<g fill="#C373E0"><circle cx="515.3" cy="1838.9" r="5.75"/><circle cx="515.9" cy="1845.3" r="5.75"/><circle cx="515.3" cy="1856" r="5.75"/><circle cx="535.7" cy="1841.2" r="5.75"/><circle cx="534.9" cy="1852.2" r="5.75"/><circle cx="554.2" cy="1855.1" r="5.75"/><circle cx="554.9" cy="1865.5" r="5.75"/><circle cx="554.6" cy="1867.8" r="5.75"/><circle cx="573.9" cy="1840.7" r="5.75"/><circle cx="573.9" cy="1852.8" r="5.75"/></g>
<circle cx="668.6" cy="1760.4" r="6" fill="#FF928F"/>
<text x="700.5" y="1770.2" font-size="27.1">Biphasic lineage 1</text>
<circle cx="668.6" cy="1805.17" r="6" fill="#64AFFB"/>
<text x="700.5" y="1814.97" font-size="27.1">Monophasic lineage 1</text>
<circle cx="668.6" cy="1849.94" r="6" fill="#03C48B"/>
<text x="700.5" y="1859.74" font-size="27.1">Monophasic lineage 2</text>
<circle cx="668.6" cy="1894.71" r="6" fill="#C373E0"/>
<text x="700.5" y="1904.51" font-size="27.1">Monophasic lineage 3</text>
<text x="1024.2" y="1702.3" font-size="50" fill="#232323">H</text>
<text x="1422.4" y="1699" font-size="31.4" font-weight="bold" text-anchor="middle">BJ-5ta 24 hpi</text>
<text transform="translate(1095.3,1882.65) rotate(-90)" font-size="27.15" font-weight="bold" text-anchor="middle">Intracellular bacteria</text>
<text transform="translate(1127.9,1882.65) rotate(-90)" font-size="27.15" font-weight="bold" text-anchor="middle">(cfu/well)</text>
<text x="1422.4" y="2083.2" font-size="27.15" font-weight="bold" text-anchor="middle">Isolate</text>
<path d="M1205.3 1739.1L1638.3 1739.1 M1638.3 1739.1L1638.3 2027.5 M1193.3 2027.5L1638.3 2027.5 M1205.3 1739.1L1205.3 2027.5 M1193.3 2027.5L1205.3 2027.5 M1193.3 1995.46L1205.3 1995.46 M1193.3 1963.41L1205.3 1963.41 M1193.3 1931.37L1205.3 1931.37 M1193.3 1899.32L1205.3 1899.32 M1193.3 1867.28L1205.3 1867.28 M1193.3 1835.23L1205.3 1835.23 M1193.3 1803.19L1205.3 1803.19 M1193.3 1771.14L1205.3 1771.14 M1193.3 1739.1L1205.3 1739.1 M1312.2 1739.1L1312.2 2027.5 M1422 1739.1L1422 2027.5 M1532.2 1739.1L1532.2 2027.5 M1217.5 2027.5L1217.5 2039.5 M1236.93 2027.5L1236.93 2039.5 M1256.36 2027.5L1256.36 2039.5 M1275.79 2027.5L1275.79 2039.5 M1295.22 2027.5L1295.22 2039.5 M1327.53 2027.5L1327.53 2039.5 M1346.96 2027.5L1346.96 2039.5 M1366.39 2027.5L1366.39 2039.5 M1385.82 2027.5L1385.82 2039.5 M1405.25 2027.5L1405.25 2039.5 M1437.56 2027.5L1437.56 2039.5 M1456.99 2027.5L1456.99 2039.5 M1476.42 2027.5L1476.42 2039.5 M1495.85 2027.5L1495.85 2039.5 M1515.28 2027.5L1515.28 2039.5 M1547.59 2027.5L1547.59 2039.5 M1567.02 2027.5L1567.02 2039.5 M1586.45 2027.5L1586.45 2039.5 M1605.88 2027.5L1605.88 2039.5 M1625.31 2027.5L1625.31 2039.5" stroke="#000" stroke-width="2.7" fill="none" stroke-linecap="square"/>
<text x="1179.3" y="2036.1" font-size="22" font-weight="bold" text-anchor="end">10</text><text x="1179.8" y="2028.1" font-size="16.5" font-weight="bold">0</text>
<text x="1179.3" y="2004.06" font-size="22" font-weight="bold" text-anchor="end">10</text><text x="1179.8" y="1996.06" font-size="16.5" font-weight="bold">1</text>
<text x="1179.3" y="1972.01" font-size="22" font-weight="bold" text-anchor="end">10</text><text x="1179.8" y="1964.01" font-size="16.5" font-weight="bold">2</text>
<text x="1179.3" y="1939.97" font-size="22" font-weight="bold" text-anchor="end">10</text><text x="1179.8" y="1931.97" font-size="16.5" font-weight="bold">3</text>
<text x="1179.3" y="1907.92" font-size="22" font-weight="bold" text-anchor="end">10</text><text x="1179.8" y="1899.92" font-size="16.5" font-weight="bold">4</text>
<text x="1179.3" y="1875.88" font-size="22" font-weight="bold" text-anchor="end">10</text><text x="1179.8" y="1867.88" font-size="16.5" font-weight="bold">5</text>
<text x="1179.3" y="1843.83" font-size="22" font-weight="bold" text-anchor="end">10</text><text x="1179.8" y="1835.83" font-size="16.5" font-weight="bold">6</text>
<text x="1179.3" y="1811.79" font-size="22" font-weight="bold" text-anchor="end">10</text><text x="1179.8" y="1803.79" font-size="16.5" font-weight="bold">7</text>
<text x="1179.3" y="1779.74" font-size="22" font-weight="bold" text-anchor="end">10</text><text x="1179.8" y="1771.74" font-size="16.5" font-weight="bold">8</text>
<text x="1179.3" y="1747.7" font-size="22" font-weight="bold" text-anchor="end">10</text><text x="1179.8" y="1739.7" font-size="16.5" font-weight="bold">9</text>
<path d="M1331.55 1770.5L1621.55 1770.5" stroke="#000" stroke-width="2.7" stroke-linecap="round"/>
<text x="1537.2" y="1763.1" font-size="23.2"><tspan font-style="italic">p</tspan>=0.0423</text>
<path d="M1333.25 1814.4L1513.05 1814.4" stroke="#000" stroke-width="2.7" stroke-linecap="round"/>
<text x="1430.4" y="1804.7" font-size="23.2"><tspan font-style="italic">p</tspan>=0.0327</text>
<path d="M1232.05 1956.5L1242.55 1956.5 M1237.3 1956.5L1237.3 1945.5M1233.9 1945.5L1240.7 1945.5 M1251.35 1917.5L1261.85 1917.5 M1256.6 1917.5L1256.6 1906M1253.2 1906L1260 1906 M1270.75 1967.5L1281.25 1967.5 M1276 1967.5L1276 1955M1272.6 1955L1279.4 1955 M1342.05 1968.6L1352.55 1968.6 M1347.3 1968.6L1347.3 1955M1343.9 1955L1350.7 1955 M1361.45 1912.9L1371.95 1912.9 M1366.7 1912.9L1366.7 1901M1363.3 1901L1370.1 1901 M1380.85 1905.1L1391.35 1905.1 M1386.1 1905.1L1386.1 1896M1382.7 1896L1389.5 1896 M1451.95 1897.1L1462.45 1897.1 M1457.2 1897.1L1457.2 1887M1453.8 1887L1460.6 1887 M1471.65 1842.8L1482.15 1842.8 M1476.9 1842.8L1476.9 1871.1M1473.5 1871.1L1480.3 1871.1 M1490.65 1901.8L1501.15 1901.8 M1495.9 1901.8L1495.9 1911.8M1492.5 1911.8L1499.3 1911.8 M1510.25 1909.5L1520.75 1909.5 M1515.5 1909.5L1515.5 1898M1512.1 1898L1518.9 1898 M1542.35 1825.5L1552.85 1825.5 M1547.6 1825.5L1547.6 1840.7M1544.2 1840.7L1551 1840.7 M1562.05 1926.4L1572.55 1926.4 M1567.3 1926.4L1567.3 1938.7M1563.9 1938.7L1570.7 1938.7 M1581.35 1793L1591.85 1793 M1586.6 1793L1586.6 1806.4M1583.2 1806.4L1590 1806.4 M1600.65 1806L1611.15 1806 M1605.9 1806L1605.9 1821.4M1602.5 1821.4L1609.3 1821.4" stroke="#000" stroke-width="2.4" fill="none" stroke-linecap="round"/>
<g fill="#FF928F"><circle cx="1237.3" cy="1943.5" r="5.75"/><circle cx="1237.3" cy="1966.4" r="5.75"/><circle cx="1256.6" cy="1904.3" r="5.75"/><circle cx="1256.6" cy="1933.4" r="5.75"/><circle cx="1256.6" cy="1960.6" r="5.75"/><circle cx="1276" cy="1953.3" r="5.75"/><circle cx="1276" cy="1988.8" r="5.75"/></g>
<g fill="#64AFFB"><circle cx="1347.3" cy="1953.3" r="5.75"/><circle cx="1347.3" cy="2008" r="5.75"/><circle cx="1366.7" cy="1899.4" r="5.75"/><circle cx="1366.7" cy="1927.1" r="5.75"/><circle cx="1366.7" cy="1975.9" r="5.75"/><circle cx="1386.1" cy="1893.9" r="5.75"/><circle cx="1386.1" cy="1913.3" r="5.75"/><circle cx="1386.1" cy="1926" r="5.75"/></g>
<g fill="#03C48B"><circle cx="1437.4" cy="1845.1" r="5.75"/><circle cx="1438.6" cy="1846.2" r="5.75"/><circle cx="1457.2" cy="1885" r="5.75"/><circle cx="1457.2" cy="1913" r="5.75"/><circle cx="1476.9" cy="1837" r="5.75"/><circle cx="1495.9" cy="1895.4" r="5.75"/><circle cx="1495.9" cy="1907" r="5.75"/><circle cx="1515.5" cy="1896.3" r="5.75"/><circle cx="1515.5" cy="1927.2" r="5.75"/><circle cx="1515.5" cy="1939.3" r="5.75"/></g>
<g fill="#C373E0"><circle cx="1547.6" cy="1825.5" r="5.75"/><circle cx="1548.5" cy="1914.8" r="5.75"/><circle cx="1547.3" cy="1925.2" r="5.75"/><circle cx="1567.3" cy="1921.2" r="5.75"/><circle cx="1567.3" cy="1933.3" r="5.75"/><circle cx="1586.6" cy="1792.9" r="5.75"/><circle cx="1587.1" cy="1830.1" r="5.75"/><circle cx="1586.2" cy="1837.6" r="5.75"/><circle cx="1605.9" cy="1806" r="5.75"/><circle cx="1605.9" cy="1937" r="5.75"/><circle cx="1605.9" cy="1943.9" r="5.75"/></g>
<circle cx="1700.7" cy="1760.9" r="5.9" fill="#FF928F"/>
<text x="1732.3" y="1770.4" font-size="27.1">Biphasic lineage 1</text>
<circle cx="1700.7" cy="1805.5" r="5.9" fill="#64AFFB"/>
<text x="1732.3" y="1815" font-size="27.1">Monophasic lineage 1</text>
<circle cx="1700.7" cy="1850.1" r="5.9" fill="#03C48B"/>
<text x="1732.3" y="1859.6" font-size="27.1">Monophasic lineage 2</text>
<circle cx="1700.7" cy="1894.7" r="5.9" fill="#C373E0"/>
<text x="1732.3" y="1904.2" font-size="27.1">Monophasic lineage 3</text>
</svg>
</body></html>
